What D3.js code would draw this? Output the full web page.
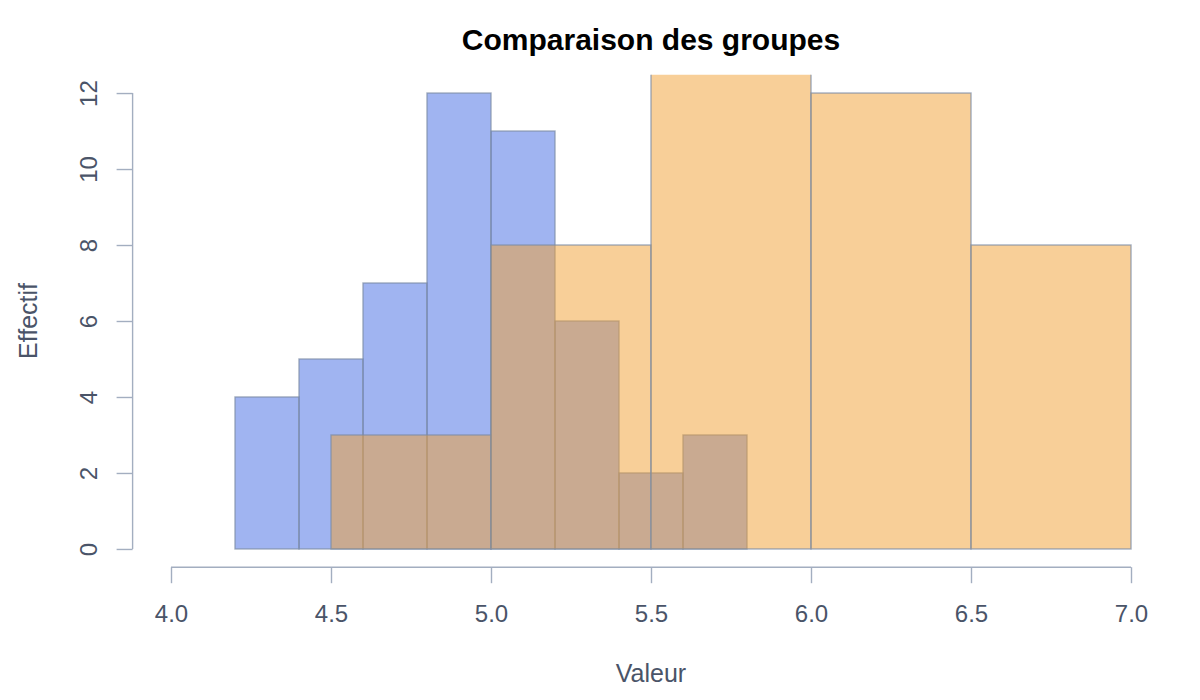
<!DOCTYPE html>
<html><head><meta charset="utf-8">
<script src="https://cdn.jsdelivr.net/npm/d3@7"></script>
<style>body{margin:0;background:#fff;} svg{display:block;font-family:"Liberation Sans",Arial,sans-serif;}</style>
</head><body>
<svg id="c" width="1200" height="700"></svg>
<script>
// Group A (blue): bin edges and counts
const binsA = [4.2, 4.4, 4.6, 4.8, 5.0, 5.2, 5.4, 5.6, 5.8];
const countsA = [4, 5, 7, 12, 11, 6, 2, 3];
// Group B (orange)
const binsB = [4.5, 5.0, 5.5, 6.0, 6.5, 7.0];
const countsB = [3, 8, 19, 12, 8];
const xTicks = [4.0, 4.5, 5.0, 5.5, 6.0, 6.5, 7.0];
const yTicks = [0, 2, 4, 6, 8, 10, 12];
const title = "Comparaison des groupes";
const xLabel = "Valeur";
const yLabel = "Effectif";

const svg = d3.select("#c");
const x = d3.scaleLinear().domain([3.88, 7.12]).range([132.6, 1169.4]);
const y = d3.scaleLinear().domain([-0.48, 12.48]).range([567.2, 74.8]);
const axisCol = "#a3aec0", textCol = "#4a5468", borderCol = "rgba(125,140,165,0.72)";
const FF = "Liberation Sans, Arial, sans-serif";

svg.append("defs").append("clipPath").attr("id","plotclip")
  .append("rect").attr("x",x(3.88)).attr("y",y(12.48)).attr("width",x(7.12)-x(3.88)).attr("height",y(-0.48)-y(12.48));

const g = svg.append("g").attr("clip-path","url(#plotclip)");
function drawHist(edges, counts, fill){
  g.selectAll(null).data(counts).enter().append("rect")
    .attr("x",(d,i)=>x(edges[i]))
    .attr("width",(d,i)=>x(edges[i+1])-x(edges[i]))
    .attr("y",d=>y(d))
    .attr("height",d=>y(0)-y(d))
    .attr("fill",fill)
    .attr("stroke",borderCol).attr("stroke-width",1.4);
}
drawHist(binsA, countsA, "rgba(65,105,228,0.5)");
drawHist(binsB, countsB, "rgba(242,159,49,0.5)");

// x axis
const xa = svg.append("g").attr("transform",`translate(0,${y(-0.48)})`)
  .call(d3.axisBottom(x).tickValues(xTicks).tickFormat(d3.format(".1f")).tickSizeOuter(0).tickSize(16));
xa.select(".domain").attr("d",`M${x(4)},0H${x(7)}`).attr("stroke",axisCol).attr("stroke-width",1.4);
xa.selectAll(".tick line").attr("stroke",axisCol).attr("stroke-width",1.4);
xa.selectAll(".tick text").attr("fill",textCol).attr("font-size",24).attr("font-family",FF)
  .attr("y",55).attr("dy",0);

// y axis
const ya = svg.append("g").attr("transform",`translate(${x(3.88)},0)`)
  .call(d3.axisLeft(y).tickValues(yTicks).tickSizeOuter(0).tickSize(16).tickPadding(0));
ya.select(".domain").attr("d",`M0,${y(0)}V${y(12)}`).attr("stroke",axisCol).attr("stroke-width",1.4);
ya.selectAll(".tick line").attr("stroke",axisCol).attr("stroke-width",1.4);
ya.selectAll(".tick text").attr("fill",textCol).attr("font-size",24)
  .attr("font-family",FF)
  .attr("x",0).attr("dy",0).attr("text-anchor","middle")
  .attr("transform","translate(-35.6,0) rotate(-90)");

svg.append("text").attr("x",651).attr("y",50).attr("text-anchor","middle").attr("font-family",FF)
  .attr("font-size",30).attr("font-weight","bold").attr("fill","#000").text(title);
svg.append("text").attr("x",651).attr("y",682).attr("text-anchor","middle").attr("font-family",FF)
  .attr("font-size",25).attr("fill",textCol).text(xLabel);
svg.append("text").attr("transform","translate(37,321) rotate(-90)").attr("text-anchor","middle").attr("font-family",FF)
  .attr("font-size",25).attr("fill",textCol).text(yLabel);
</script>
</body></html>
